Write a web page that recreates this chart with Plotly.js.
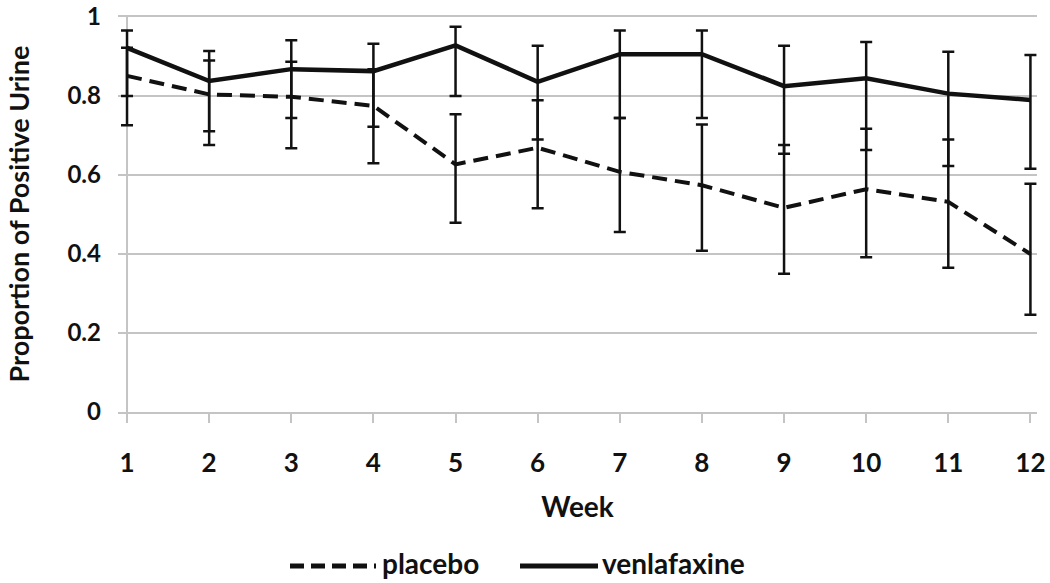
<!DOCTYPE html>
<html>
<head>
<meta charset="utf-8">
<script src="https://cdn.plot.ly/plotly-3.0.1.min.js"></script>
<style>html,body{margin:0;padding:0;background:#fff;}#chart{width:1050px;height:583px;}</style>
</head>
<body>
<div id="chart"></div>
<script>
const weeks = [1,2,3,4,5,6,7,8,9,10,11,12];

const placebo      = [0.851,0.804,0.798,0.775,0.627,0.669,0.608,0.574,0.517,0.564,0.532,0.400];
const placeboUpper = [0.922,0.890,0.887,0.868,0.754,0.789,0.744,0.728,0.676,0.717,0.690,0.578];
const placeboLower = [0.726,0.676,0.668,0.630,0.479,0.516,0.456,0.408,0.350,0.392,0.365,0.246];

const venlafaxine      = [0.922,0.838,0.868,0.863,0.928,0.836,0.906,0.906,0.825,0.845,0.806,0.790];
const venlafaxineUpper = [0.966,0.914,0.941,0.932,0.975,0.927,0.966,0.966,0.927,0.937,0.912,0.904];
const venlafaxineLower = [0.800,0.711,0.744,0.722,0.800,0.690,0.744,0.744,0.654,0.663,0.623,0.616];

const seriesNames = ['placebo','venlafaxine'];
const yTicks = [0,0.2,0.4,0.6,0.8,1];
const yTickText = ['0','0.2','0.4','0.6','0.8','1'];
const xTitle = 'Week';
const yTitle = 'Proportion of Positive Urine';

const FONT = 'Lato, "Open Sans", sans-serif';
const GRID = '#c4c4c4';

function errs(vals, up, lo){
  return {
    type:'data', symmetric:false,
    array: up.map((u,i)=> +(u-vals[i]).toFixed(4)),
    arrayminus: lo.map((l,i)=> +(vals[i]-l).toFixed(4)),
    color:'#111', thickness:2.5, width:6
  };
}

const traces = [
  {x:weeks, y:placebo, name:seriesNames[0], type:'scatter', mode:'lines',
   line:{color:'#111', width:4, dash:'15px,8px'}, error_y:errs(placebo,placeboUpper,placeboLower),
   showlegend:false},
  {x:weeks, y:venlafaxine, name:seriesNames[1], type:'scatter', mode:'lines',
   line:{color:'#111', width:4.5}, error_y:errs(venlafaxine,venlafaxineUpper,venlafaxineLower),
   showlegend:false}
];

// plot-area geometry in pixels (used to place the hand-drawn legend / title)
const L = 118, R = 13, PW = 1050 - L - R;
const T = 17, B = 171, PH = 583 - T - B;
const xr = [0.89, 12.08];
const px = v => (v - L) / PW;          // pixel -> paper x
const py = v => (583 - B - v) / PH;    // pixel -> paper y

const legY = py(563);
const shapes = [
  // vertical value axis line at week 1
  {type:'line', xref:'x', yref:'y', x0:weeks[0], x1:weeks[0], y0:0, y1:1, layer:'below',
   line:{color:GRID, width:2}},
  // legend samples
  {type:'line', xref:'paper', yref:'paper', x0:px(290), x1:px(376), y0:py(566), y1:py(566),
   line:{color:'#111', width:5, dash:'14px,7px'}},
  {type:'line', xref:'paper', yref:'paper', x0:px(520), x1:px(598), y0:py(566), y1:py(566),
   line:{color:'#111', width:5}}
];
const annotations = [
  {xref:'paper', yref:'paper', x:px(380), y:legY, xanchor:'left', yanchor:'middle',
   text:seriesNames[0], showarrow:false, font:{family:FONT, size:28, color:'#111', weight:'bold'}},
  {xref:'paper', yref:'paper', x:px(600), y:legY, xanchor:'left', yanchor:'middle',
   text:seriesNames[1], showarrow:false, font:{family:FONT, size:28, color:'#111', weight:'bold'}},
  {xref:'paper', yref:'y', x:px(18), y:0.5, xanchor:'center', yanchor:'middle', textangle:-90,
   text:yTitle, showarrow:false, font:{family:FONT, size:27, color:'#111', weight:'bold'}}
];

const layout = {
  width:1050, height:583,
  margin:{l:L, r:R, t:T, b:B},
  paper_bgcolor:'#fff', plot_bgcolor:'#fff',
  showlegend:false,
  font:{family:FONT, color:'#111'},
  xaxis:{
    range:xr, tickvals:weeks, ticktext:weeks.map(String),
    showgrid:false, zeroline:false,
    showline:true, mirror:true, linecolor:GRID, linewidth:2,
    ticks:'outside', ticklen:9, tickwidth:2, tickcolor:GRID,
    ticklabelstandoff:18,
    tickfont:{family:FONT, size:26, color:'#111', weight:'bold'},
    title:{text:xTitle, font:{family:FONT, size:28, color:'#111', weight:'bold'}, standoff:20}
  },
  yaxis:{
    range:[0,1], tickvals:yTicks, ticktext:yTickText,
    showgrid:true, gridcolor:GRID, gridwidth:2,
    zeroline:false,
    showline:false, ticks:'',
    ticklabelstandoff:16, ticklabeloverflow:'allow',
    tickfont:{family:FONT, size:24, color:'#111', weight:'bold'}
  },
  shapes:shapes,
  annotations:annotations
};

Plotly.newPlot('chart', traces, layout, {displayModeBar:false, staticPlot:true});
</script>
</body>
</html>
